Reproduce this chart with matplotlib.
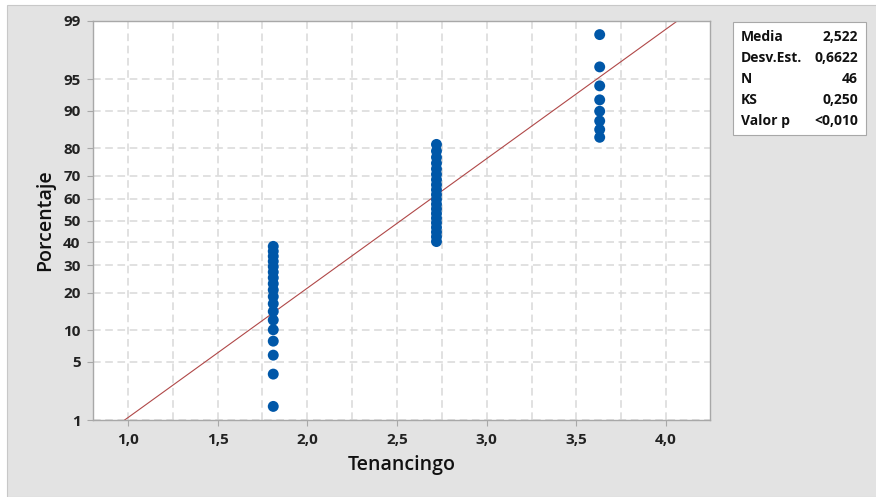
import numpy as np
import matplotlib.pyplot as plt
from matplotlib.patches import Rectangle
from statistics import NormalDist

# Tenancingo values (N = 46, three distinct levels)
x_levels = [1.81, 2.72, 3.63]
x_counts = [18, 20, 8]
media = 2.522
desv_est = 0.6622
stats_labels = ["Media", "Desv.Est.", "N", "KS", "Valor p"]
stats_values = ["2,522", "0,6622", "46", "0,250", "<0,010"]
y_ticks = [1, 5, 10, 20, 30, 40, 50, 60, 70, 80, 90, 95, 99]
x_ticks = [1.0, 1.5, 2.0, 2.5, 3.0, 3.5, 4.0]

nd = NormalDist()
z = np.vectorize(lambda p: nd.inv_cdf(p / 100.0))

values = np.repeat(x_levels, x_counts)
n = len(values)
ranks = np.arange(1, n + 1)
pct = (ranks - 0.3) / (n + 0.4) * 100  # median ranks, as Minitab

plt.rcParams['font.family'] = ['Open Sans', 'DejaVu Sans']

fig = plt.figure(figsize=(8.76, 4.97), dpi=100)
fig.patch.set_facecolor("white")
fig.patches.append(Rectangle((7 / 876, 0), 1, 1 - 5 / 497, transform=fig.transFigure,
                             facecolor="#E3E3E3", edgecolor="#C8C8C8", lw=0.8, zorder=-10))

ax = fig.add_axes([93 / 876, 1 - 420 / 497, (710 - 93) / 876, (420 - 21) / 497])
ax.set_facecolor("white")

# fitted normal line
zz = np.linspace(z(1), z(99), 50)
ax.plot(media + desv_est * zz, zz, color="#B04848", lw=0.8, zorder=2)

ax.scatter(values, z(pct), s=62, color="#0057A8", edgecolors="none", zorder=3)

ax.set_xlim(0.805, 4.245)
ax.set_ylim(z(1), z(99))
ax.set_yticks(z(y_ticks))
ax.set_yticklabels([str(t) for t in y_ticks])
ax.set_xticks(x_ticks)
ax.set_xticklabels([f"{t:.1f}".replace(".", ",") for t in x_ticks])
ax.set_xticks(np.arange(1.25, 4.2, 0.5), minor=True)
ax.tick_params(axis="x", which="minor", length=0)

ax.grid(True, which="both", axis="x", color="#D8D8D8", linestyle=(0, (5, 3)), lw=1.1)
ax.grid(True, which="major", axis="y", color="#D8D8D8", linestyle=(0, (5, 3)), lw=1.1)
ax.set_axisbelow(True)

for s in ax.spines.values():
    s.set_color("#A8A8A8")
    s.set_linewidth(1.0)
ax.tick_params(axis="both", which="major", direction="out", length=4, color="#A8A8A8",
               labelsize=11, labelcolor="#222222", pad=5)
for lab in ax.get_xticklabels() + ax.get_yticklabels():
    lab.set_fontweight("bold")

ax.set_xlabel("Tenancingo", fontsize=14, fontweight="semibold", color="#111111", labelpad=6)
ax.set_ylabel("Porcentaje", fontsize=14, fontweight="semibold", color="#111111", labelpad=6)

# statistics box
bx0, bx1 = 733 / 876, 866 / 876
by0, by1 = 1 - 135 / 497, 1 - 22 / 497
fig.patches.append(Rectangle((bx0, by0), bx1 - bx0, by1 - by0, transform=fig.transFigure,
                             facecolor="white", edgecolor="#A8A8A8", lw=0.8, zorder=5))
for i, (lab, val) in enumerate(zip(stats_labels, stats_values)):
    yy = 1 - (37 + i * 21) / 497
    fig.text(741 / 876, yy, lab, ha="left", va="center", fontsize=10,
             fontweight="bold", color="#111111", zorder=6)
    fig.text(858 / 876, yy, val, ha="right", va="center", fontsize=10,
             fontweight="bold", color="#111111", zorder=6)

fig.savefig("out.png", dpi=100, facecolor=fig.get_facecolor())
